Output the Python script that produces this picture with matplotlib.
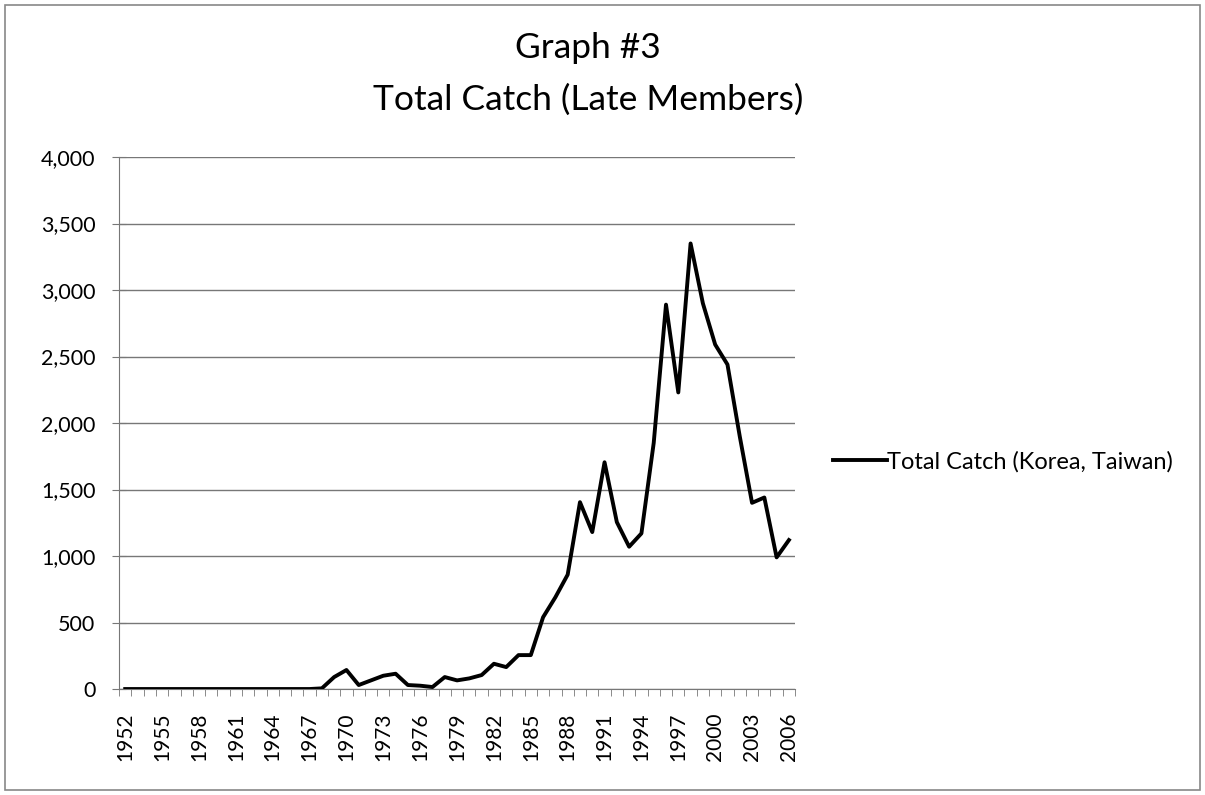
import numpy as np
import matplotlib.pyplot as plt
from matplotlib.patches import Rectangle
from matplotlib.ticker import FuncFormatter, MultipleLocator

plt.rcParams['font.family'] = ['Lato', 'DejaVu Sans']

# %% Data
years = list(range(1952, 2007))
catch = [0, 0, 0, 0, 0, 0, 0, 0, 0, 0,      # 1952-1961
         0, 0, 0, 0, 0, 0, 5, 90, 143, 30,  # 1962-1971
         65, 100, 115, 30, 25, 15, 90, 65, 80, 105,  # 1972-1981
         190, 165, 255, 255, 540, 690, 860, 1405, 1180, 1705,  # 1982-1991
         1255, 1070, 1170, 1850, 2890, 2230, 3350, 2900, 2590, 2440,  # 1992-2001
         1900, 1400, 1440, 990, 1120]        # 2002-2006
series_label = "Total Catch (Korea, Taiwan)"
title_lines = ["Graph #3", "Total Catch (Late Members)"]
yticks = list(range(0, 4001, 500))
xlabel_years = years[::3]

# %% Figure
fig = plt.figure(figsize=(12.05, 7.95), dpi=100)
fig.patches.append(Rectangle((0.004, 0.006), 0.992, 0.988, transform=fig.transFigure,
                             fill=False, edgecolor="#888888", linewidth=1.2))
ax = fig.add_axes([0.0988, 0.1333, 0.561, 0.6692])

ax.plot(years, catch, color="black", linewidth=2.8, label=series_label, zorder=3)

ax.set_xlim(years[0] - 0.5, years[-1] + 0.5)
ax.set_ylim(0, 4000)
ax.set_yticks(yticks)
ax.yaxis.set_major_formatter(FuncFormatter(lambda v, p: "{:,}".format(int(v))))
ax.grid(axis="y", color="#777777", linewidth=1.0)
ax.set_axisbelow(True)

ax.set_xticks(xlabel_years)
ax.set_xticklabels([str(y) for y in xlabel_years], rotation=90)
ax.xaxis.set_minor_locator(MultipleLocator(1, offset=0.5))
ax.tick_params(axis="x", which="major", length=0, pad=17, labelsize=15)
ax.tick_params(axis="x", which="minor", length=5, color="#777777", direction="out")
ax.tick_params(axis="y", length=10, color="#777777", direction="inout", labelsize=15.5, pad=12)

for s in ["top", "right"]:
    ax.spines[s].set_visible(False)
ax.spines["left"].set_color("#777777")
ax.spines["bottom"].set_color("#777777")

fig.text(0.488, 0.940, title_lines[0], ha="center", va="center", fontsize=25.5)
fig.text(0.488, 0.875, title_lines[1], ha="center", va="center", fontsize=25.5)

ax.legend(loc="center left", bbox_to_anchor=(1.056, 0.427), frameon=False,
          fontsize=17, handlelength=2.3, handletextpad=0.0,
          borderaxespad=0, borderpad=0)

plt.savefig("out.png", dpi=100)
